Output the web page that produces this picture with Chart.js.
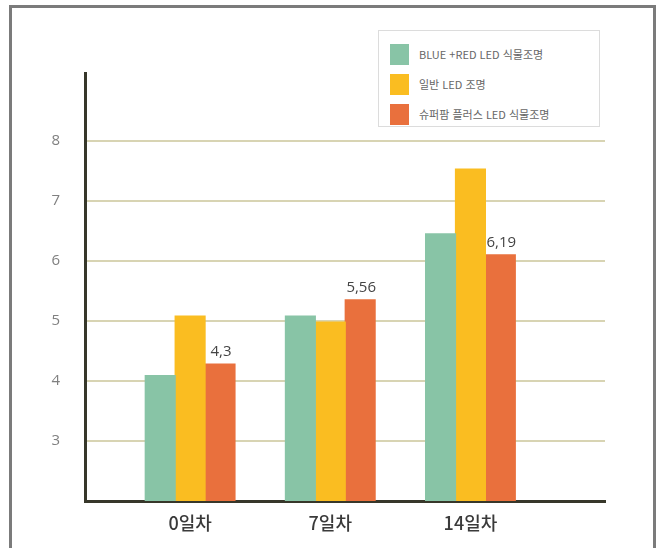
<!DOCTYPE html>
<html lang="ko">
<head>
<meta charset="utf-8">
<script src="https://cdn.jsdelivr.net/npm/chart.js@4/dist/chart.umd.min.js"></script>
<style>
  html, body { margin: 0; padding: 0; background: #fff; }
  .wrap { position: relative; width: 664px; height: 548px; overflow: hidden; background: #fff; }
  .frame { position: absolute; left: 9px; top: 5px; width: 647px; height: 600px; border: 3px solid #7b7b7b; border-bottom: none; box-sizing: border-box; }
  canvas { position: absolute; left: 0; top: 0; }
  #legend { position: absolute; left: 378px; top: 30px; width: 222px; height: 97px; box-sizing: border-box;
    border: 1px solid #dcdcdc; background: #fff; padding-top: 8px; }
  #legend .row { display: flex; align-items: center; height: 30px; padding-left: 11px; }
  #legend .dot { width: 19px; height: 21px; margin-right: 10px; }
  #legend .name { font-family: "Noto Sans CJK KR", sans-serif; font-size: 11px; color: #666; }
</style>
</head>
<body>
<div class="wrap">
  <div class="frame"></div>
  <canvas id="chart" width="664" height="548"></canvas>
  <div id="legend"></div>
</div>
<script>
const categories = ["0일차", "7일차", "14일차"];
const seriesNames = ["BLUE +RED LED 식물조명", "일반 LED 조명", "슈퍼팜 플러스 LED 식물조명"];
const blueRed = [4.09, 5.08, 6.45];
const normalLed = [5.08, 4.98, 7.53];
const superFarm = [4.28, 5.35, 6.1];
const superFarmLabels = ["4,3", "5,56", "6,19"];
const yTicks = [3, 4, 5, 6, 7, 8];
const colors = ["#88c4a6", "#fabd21", "#e9703d"];

const toPoints = (vals) => vals.map((v, i) => ({ x: i, y: v }));

// value labels above the orange bars
const valueLabels = {
  id: "valueLabels",
  afterDatasetsDraw(chart) {
    const ctx = chart.ctx;
    const meta = chart.getDatasetMeta(2);
    ctx.save();
    ctx.font = "15px 'Open Sans', sans-serif";
    ctx.fillStyle = "#444";
    ctx.textAlign = "center";
    ctx.textBaseline = "bottom";
    meta.data.forEach((bar, i) => {
      ctx.fillText(superFarmLabels[i], bar.x + 1, bar.y - 5);
    });
    ctx.restore();
  },
};

const chart = new Chart(document.getElementById("chart").getContext("2d"), {
  type: "bar",
  data: {
    datasets: [
      { label: seriesNames[0], data: toPoints(blueRed), backgroundColor: colors[0] },
      { label: seriesNames[1], data: toPoints(normalLed), backgroundColor: colors[1] },
      { label: seriesNames[2], data: toPoints(superFarm), backgroundColor: colors[2] },
    ],
  },
  options: {
    responsive: false,
    animation: false,
    layout: { padding: { top: 73, right: 59, left: 0, bottom: 0 } },
    datasets: { bar: { categoryPercentage: 0.64, barPercentage: 1.0, inflateAmount: 0.6 } },
    plugins: { legend: { display: false }, tooltip: { enabled: false } },
    scales: {
      x: {
        type: "linear",
        offset: false,
        min: -0.75,
        max: 2.96,
        afterBuildTicks: (axis) => { axis.ticks = categories.map((_, i) => ({ value: i })); },
        afterFit: (axis) => { axis.height = 47; },
        grid: { display: false, drawTicks: false, offset: false },
        border: { display: true, color: "#37372a", width: 3 },
        ticks: {
          autoSkip: false,
          maxRotation: 0,
          padding: 11,
          color: "#3a3a3a",
          font: { family: "'Noto Sans CJK KR', sans-serif", size: 18, weight: "500" },
          callback: (v) => categories[v] ?? "",
        },
      },
      y: {
        min: 2,
        max: 9.13,
        afterBuildTicks: (axis) => { axis.ticks = yTicks.map((v) => ({ value: v })); },
        afterFit: (axis) => { axis.width = 85; },
        grid: { color: "#d8d4b3", lineWidth: 2, drawTicks: false },
        border: { display: true, color: "#37372a", width: 3 },
        ticks: {
          padding: 25,
          color: "#808080",
          font: { family: "'Open Sans', sans-serif", size: 15 },
        },
      },
    },
  },
  plugins: [valueLabels],
});

function renderLegend(containerId) {
  const root = document.getElementById(containerId);
  root.innerHTML = chart.data.datasets.map((ds) => `
    <div class="row">
      <div class="dot" style="background:${ds.backgroundColor};"></div>
      <div class="name">${ds.label}</div>
    </div>`).join("");
}
renderLegend("legend");
</script>
</body>
</html>
